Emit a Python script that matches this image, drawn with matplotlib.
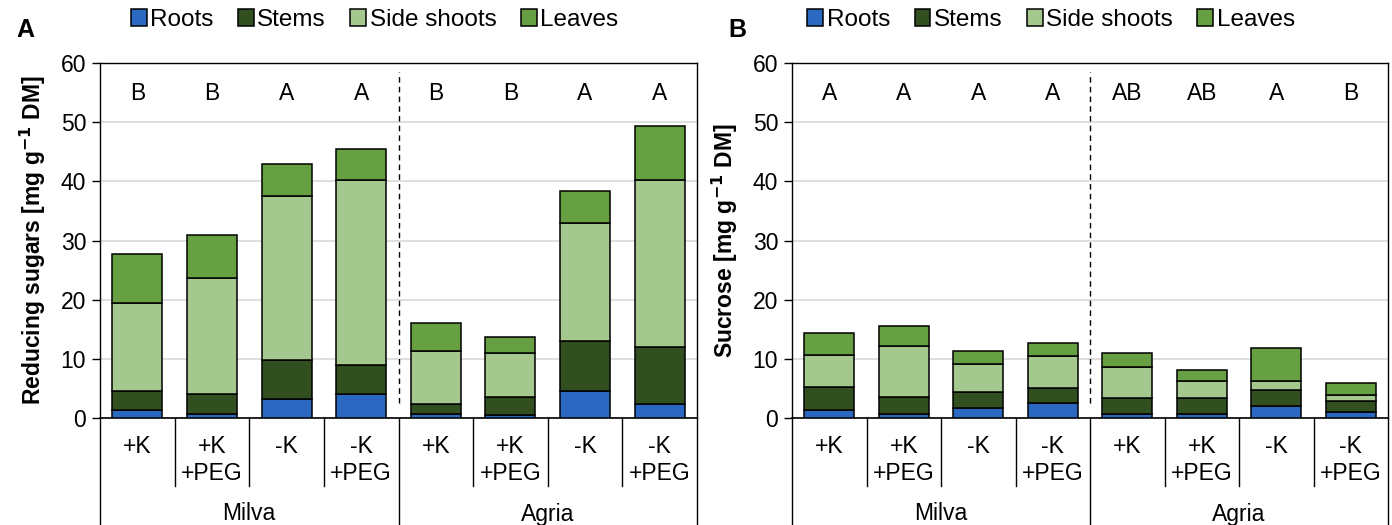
import numpy as np
import matplotlib.pyplot as plt

plt.rcParams['font.family'] = ['Liberation Sans', 'DejaVu Sans']

# treatments and cultivars
treatments = ['+K', '+K\n+PEG', '-K', '-K\n+PEG'] * 2
cultivars = ['Milva', 'Agria']
organs = ['Roots', 'Stems', 'Side shoots', 'Leaves']
colors = ['#2a68c2', '#324f20', '#a4c88e', '#66a042']

# segment heights
# reducing sugars [mg g-1 DM]
red_roots = [1.4, 0.7, 3.2, 4.0, 0.7, 0.55, 4.6, 2.3]
red_stems = [3.1, 3.3, 6.6, 5.0, 1.7, 2.95, 8.4, 9.7]
red_side = [14.9, 19.6, 27.7, 31.2, 8.9, 7.5, 20.0, 28.2]
red_leaves = [8.4, 7.4, 5.5, 5.2, 4.7, 2.65, 5.4, 9.1]
red_letters = ['B', 'B', 'A', 'A', 'B', 'B', 'A', 'A']

# sucrose [mg g-1 DM]
suc_roots = [1.4, 0.65, 1.75, 2.5, 0.6, 0.65, 1.95, 1.05]
suc_stems = [3.8, 2.95, 2.65, 2.6, 2.8, 2.75, 2.85, 1.85]
suc_side = [5.4, 8.5, 4.7, 5.3, 5.2, 2.9, 1.5, 1.0]
suc_leaves = [3.8, 3.4, 2.3, 2.3, 2.4, 1.8, 5.5, 1.95]
suc_letters = ['A', 'A', 'A', 'A', 'AB', 'AB', 'A', 'B']

fig = plt.figure(figsize=(13.92, 5.25), dpi=100)
ax_a = fig.add_axes([100 / 1392, 1 - 418 / 525, 597 / 1392, 355 / 525])
ax_b = fig.add_axes([792 / 1392, 1 - 418 / 525, 596 / 1392, 355 / 525])


def draw_panel(ax, parts, letters, ylabel, legend_x):
    x = np.arange(len(treatments))
    bottom = np.zeros(len(treatments))
    for vals, col, name in zip(parts, colors, organs):
        ax.bar(x, vals, 0.67, bottom=bottom, color=col, edgecolor='black',
               linewidth=1.1, label=name, zorder=3)
        bottom += np.array(vals)

    ax.set_xlim(-0.5, len(treatments) - 0.5)
    ax.set_ylim(0, 60)
    ax.set_yticks(range(0, 61, 10))
    ax.tick_params(axis='y', labelsize=16.5, length=6, width=1, direction='out', pad=4)
    ax.set_xticks([])
    ax.grid(axis='y', color='#d9d9d9', linewidth=1.2, zorder=0)
    for s in ax.spines.values():
        s.set_color('black')
        s.set_linewidth(1.0)
    ax.spines['bottom'].set_linewidth(1.2)
    ax.set_ylabel(ylabel, fontsize=16.5, fontweight='bold', labelpad=9)

    # dashed divider between cultivars
    ax.plot([3.5, 3.5], [2.5, 58.5], color='black', linestyle=(0, (4, 3)), linewidth=1, zorder=4)

    for xi, lt in zip(x, letters):
        ax.text(xi, 54.8, lt, ha='center', va='center', fontsize=16.5)

    # multi-level category axis under the plot
    trans = ax.get_xaxis_transform()
    axes_h = 355
    for xi, lab in zip(x, treatments):
        ax.text(xi, -17 / axes_h, lab, transform=trans, ha='center', va='top',
                fontsize=16.5, linespacing=1.25)
    for xb in [0.5, 1.5, 2.5, 4.5, 5.5, 6.5]:
        ax.plot([xb, xb], [0, -68 / axes_h], transform=trans, color='black',
                linewidth=1, clip_on=False)
    for xb in [-0.5, 3.5, 7.5]:
        ax.plot([xb, xb], [0, -110 / axes_h], transform=trans, color='black',
                linewidth=1, clip_on=False)
    for gi, name in enumerate(cultivars):
        ax.text(1.5 + 4 * gi, -96 / axes_h, name, transform=trans, ha='center',
                va='center', fontsize=16.5)

    ax.legend(loc='center', bbox_to_anchor=(legend_x, 1.121), ncol=4, frameon=False,
              fontsize=17.5, handlelength=0.65, handleheight=0.65, handletextpad=0.15,
              columnspacing=1.0, borderpad=0)


draw_panel(ax_a, [red_roots, red_stems, red_side, red_leaves], red_letters,
           'Reducing sugars [mg g$^{\\mathbf{-1}}$ DM]', 0.46)
draw_panel(ax_b, [suc_roots, suc_stems, suc_side, suc_leaves], suc_letters,
           'Sucrose [mg g$^{\\mathbf{-1}}$ DM]', 0.435)

fig.text(25 / 1392, 1 - 30 / 525, 'A', fontsize=18, fontweight='bold', ha='center', va='center')
fig.text(737 / 1392, 1 - 30 / 525, 'B', fontsize=18, fontweight='bold', ha='center', va='center')

fig.savefig('out.png', dpi=100)
